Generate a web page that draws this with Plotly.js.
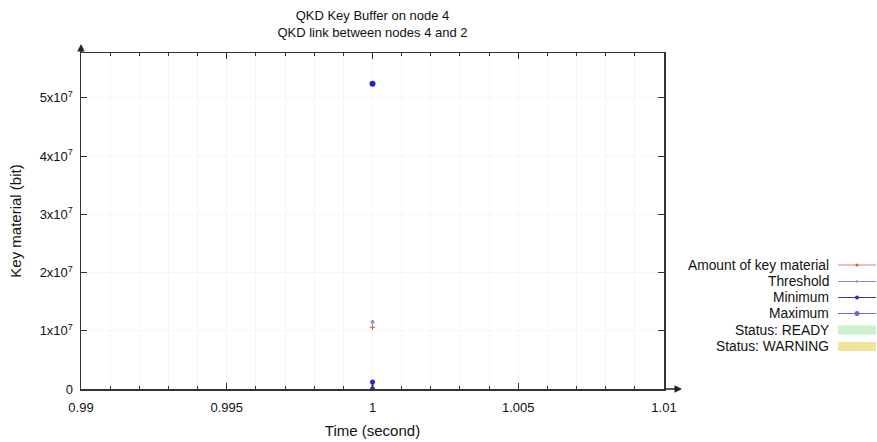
<!DOCTYPE html>
<html><head><meta charset="utf-8">
<script src="https://cdn.plot.ly/plotly-3.0.1.min.js"></script>
<style>body{margin:0;background:#fff}#chart{width:877px;height:442px}</style>
</head><body><div id="chart"></div>
<script>
// Data
const amountX = [1];
const amountY = [1.06e7];
const thresholdX = [1];
const thresholdY = [1.15e7];
const minimumX = [1, 1];
const minimumY = [0, 1.2e6];
const maximumX = [1];
const maximumY = [5.24e7];
const yTickVals = [0, 1e7, 2e7, 3e7, 4e7, 5e7];
const yTickText = ['0', '1x10<sup>7</sup>', '2x10<sup>7</sup>', '3x10<sup>7</sup>', '4x10<sup>7</sup>', '5x10<sup>7</sup>'];
const xTickVals = [0.99, 0.995, 1, 1.005, 1.01];
const xTickText = ['0.99', '0.995', '1', '1.005', '1.01'];
const legendNames = ['Amount of key material', 'Threshold', 'Minimum', 'Maximum', 'Status: READY', 'Status: WARNING'];

const FONT = 'Liberation Sans, Arial, sans-serif';
const C = {
  amount: '#e07878', threshold: '#a47ce0', minimum: '#3434b8', maximum: '#6a6ad8',
  ready: '#cdf0cd', warning: '#f3e39c'
};

const traces = [
  {x: amountX, y: amountY, type: 'scatter', mode: 'lines+markers', name: legendNames[0],
   line: {color: C.amount, width: 1}, marker: {color: '#d65c5c', size: 4, symbol: 'cross-thin', line: {color: '#d65c5c', width: 1}}},
  {x: thresholdX, y: thresholdY, type: 'scatter', mode: 'lines+markers', name: legendNames[1],
   line: {color: C.threshold, width: 1}, marker: {color: '#8f8fe0', size: 4}},
  {x: minimumX, y: minimumY, type: 'scatter', mode: 'lines+markers', name: legendNames[2],
   line: {color: C.minimum, width: 2}, marker: {color: '#2a2ac0', size: 5}},
  {x: maximumX, y: maximumY, type: 'scatter', mode: 'lines+markers', name: legendNames[3],
   line: {color: C.maximum, width: 1}, marker: {color: '#2626c4', size: 6}}
];

// custom gnuplot-like legend (text right of sample)
const L = 81, R = 664, T = 53, B = 389;
const pw = R - L, ph = B - T;
const px = v => (v - L) / pw;
const py = v => (B - v) / ph;
const rowsY = [265, 281.5, 297.5, 313.5, 330, 346.5];
const annotations = [];
const shapes = [];
legendNames.forEach((n, i) => {
  annotations.push({xref: 'paper', yref: 'paper', x: px(831), y: py(rowsY[i]), xanchor: 'right', yanchor: 'middle',
    text: n, showarrow: false, font: {family: FONT, size: 13.8, color: '#111'}});
});
const lineCols = [C.amount, C.threshold, C.minimum, C.maximum];
lineCols.forEach((c, i) => {
  shapes.push({type: 'line', xref: 'paper', yref: 'paper', x0: px(838), x1: px(876), y0: py(rowsY[i]), y1: py(rowsY[i]),
    line: {color: c, width: 1}});
});
// legend point markers
const mk = [[1.5, '#d65c5c'], [1.2, '#8f8fe0'], [2, '#2a2ac0'], [2.5, '#6a6ad8']];
mk.forEach((m, i) => {
  const r = m[0];
  shapes.push({type: 'circle', xref: 'paper', yref: 'paper', x0: px(857 - r), x1: px(857 + r),
    y0: py(rowsY[i] + r), y1: py(rowsY[i] - r), fillcolor: m[1], line: {width: 0}});
});
[[4, C.ready], [5, C.warning]].forEach(([i, c]) => {
  shapes.push({type: 'rect', xref: 'paper', yref: 'paper', x0: px(838), x1: px(876),
    y0: py(rowsY[i] + 4.5), y1: py(rowsY[i] - 4.5), fillcolor: c, line: {width: 0}});
});
// axis arrows
annotations.push({xref: 'paper', yref: 'paper', x: px(L), y: py(44), ax: 0, ay: 10,
  showarrow: true, arrowhead: 2, arrowsize: 1, arrowwidth: 1.5, arrowcolor: '#222', text: ''});
annotations.push({xref: 'paper', yref: 'paper', x: px(682), y: py(B), ax: -18, ay: 0,
  showarrow: true, arrowhead: 2, arrowsize: 1, arrowwidth: 1.5, arrowcolor: '#222', text: ''});

const layout = {
  width: 877, height: 442,
  margin: {l: L, r: 877 - R, t: T, b: 442 - B, pad: 0},
  paper_bgcolor: '#fff', plot_bgcolor: '#fff',
  showlegend: false,
  font: {family: FONT, size: 12, color: '#111'},
  title: {text: 'QKD Key Buffer on node 4<br>QKD link between nodes 4 and 2', x: 0.5 * (L + R) / 877, xanchor: 'center',
    yref: 'container', y: 1 - 20 / 442, yanchor: 'middle', font: {family: FONT, size: 13, color: '#111'}},
  xaxis: {
    range: [0.99, 1.01], tickmode: 'array', tickvals: xTickVals, ticktext: xTickText,
    ticks: 'inside', ticklen: 6, tickwidth: 1, tickcolor: '#333', ticklabelstandoff: 6,
    minor: {dtick: 0.001, tick0: 0.99, ticks: 'inside', ticklen: 3, tickcolor: '#333', showgrid: true, gridcolor: '#f6f6f6', gridwidth: 1},
    showline: true, linecolor: '#333', linewidth: 1.5, mirror: 'allticks',
    showgrid: true, gridcolor: '#f6f6f6', zeroline: false,
    tickfont: {family: FONT, size: 13, color: '#111'},
    title: {text: 'Time (second)', font: {family: FONT, size: 15, color: '#111'}, standoff: 11}
  },
  yaxis: {
    range: [0, 5.77e7], tickmode: 'array', tickvals: yTickVals, ticktext: yTickText,
    ticks: 'inside', ticklen: 6, tickwidth: 1, tickcolor: '#333', ticklabelstandoff: 4,
    showline: true, linecolor: '#333', linewidth: 1.5, mirror: 'allticks',
    showgrid: true, gridcolor: '#f6f6f6', zeroline: false,
    tickfont: {family: FONT, size: 13, color: '#111'},
    title: {text: 'Key material (bit)', font: {family: FONT, size: 15, color: '#111'}, standoff: 14}
  },
  annotations: annotations,
  shapes: shapes
};

Plotly.newPlot('chart', traces, layout, {displayModeBar: false, staticPlot: true});
</script></body></html>
